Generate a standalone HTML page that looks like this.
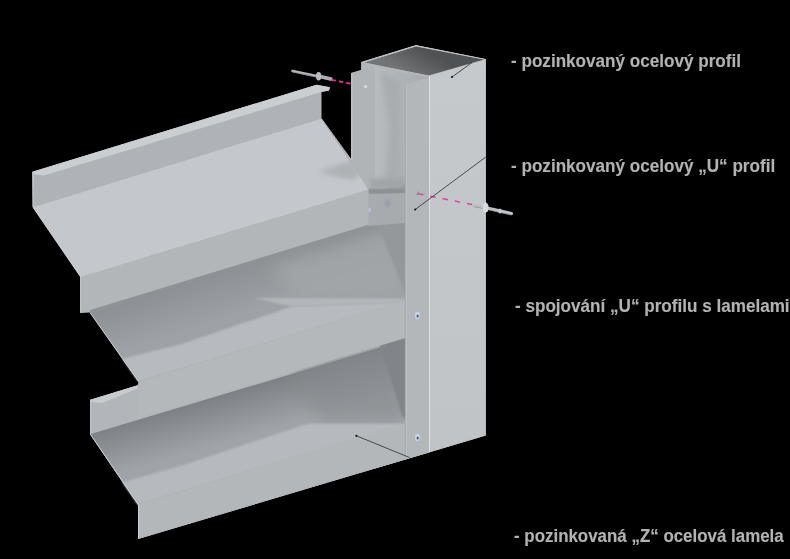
<!DOCTYPE html>
<html><head><meta charset="utf-8">
<style>
html,body{margin:0;padding:0;background:#000;width:790px;height:559px;overflow:hidden}
svg{position:absolute;left:0;top:0}
.lbl{position:absolute;left:0;white-space:pre;font-family:"Liberation Sans",sans-serif;font-weight:bold;font-size:19px;color:#b2b2b2;transform-origin:0 0;transform:scaleX(0.90);line-height:20px;-webkit-text-stroke:0.15px #b2b2b2}
</style></head><body>
<svg width="790" height="559" viewBox="0 0 790 559">
<defs>
<linearGradient id="gTubeIn" gradientUnits="userSpaceOnUse" x1="425" y1="50" x2="410" y2="76"><stop offset="0" stop-color="#505152"/><stop offset="1" stop-color="#737475"/></linearGradient>
<linearGradient id="gWeb" x1="0" y1="0" x2="1" y2="0"><stop offset="0" stop-color="#b8bbbe"/><stop offset="0.5" stop-color="#b0b3b6"/><stop offset="1" stop-color="#a8abae"/></linearGradient>
<linearGradient id="gRight" x1="0" y1="0" x2="0" y2="1"><stop offset="0" stop-color="#c6c9cc"/><stop offset="1" stop-color="#c0c4c7"/></linearGradient>
<linearGradient id="gMidShadow" gradientUnits="userSpaceOnUse" x1="200" y1="272" x2="216" y2="322"><stop offset="0" stop-color="#8a8d91"/><stop offset="1" stop-color="#9ea1a5"/></linearGradient>
<linearGradient id="gBotShadow" gradientUnits="userSpaceOnUse" x1="200" y1="398" x2="214" y2="446"><stop offset="0" stop-color="#7b7e82"/><stop offset="1" stop-color="#a0a3a7"/></linearGradient>
<filter id="soft2" x="-50%" y="-50%" width="200%" height="200%"><feGaussianBlur stdDeviation="2.5"/></filter>
<filter id="soft6" x="-50%" y="-50%" width="200%" height="200%"><feGaussianBlur stdDeviation="8"/></filter>
<filter id="soft" x="-5%" y="-5%" width="110%" height="110%"><feGaussianBlur stdDeviation="1.2"/></filter>
</defs>
<rect width="790" height="559" fill="#000"/>
<polygon points="32.4,171.8 316.5,84.8 330,87.3 329,90.4 321.3,92 321.3,118.8 351.3,160 351.3,72.9 361.2,69.7 361.2,62.2 415.9,45.3 485.8,59.2 485.8,435.4 138.2,539.1 138.2,504.9 90,434.3 90,400 137.5,385.2 138.7,382 90,312.5 80.6,313 80.6,276.9 33,207.3" fill="#b0b3b7"/>

<!-- tube right face -->
<polygon points="428.9,75.8 485.8,59.2 485.8,435.4 428.9,452.4" fill="url(#gRight)"/>
<!-- tube top outer rim -->
<polygon points="361.2,62.2 415.9,45.3 485.8,59.2 428.9,75.8" fill="#b9bcbf"/>
<polygon points="364.5,62.6 416,46.4 484,59.6 428.6,75.4" fill="url(#gTubeIn)"/>
<line x1="429.4" y1="76" x2="429.4" y2="452" stroke="#e2e5e7" stroke-width="1"/>

<!-- tube left / U web -->
<polygon points="361.2,62.2 428.9,75.8 428.9,452.4 361.2,472.6" fill="#b4b7ba"/>
<polygon points="375.4,67.5 428.9,77.5 428.9,452.4 375.4,468.3" fill="url(#gWeb)"/>
<polygon points="380,72 400,80 402,190 384,190 390,128" fill="#aaadb0" filter="url(#soft2)"/>
<line x1="375.6" y1="67" x2="375.6" y2="190" stroke="#c3c6c9" stroke-width="0.8"/>
<!-- U back flange -->
<polygon points="351.3,72.9 375.4,66.8 375.4,200 351.3,200" fill="#b1b4b7"/>
<line x1="351.8" y1="72.9" x2="351.8" y2="160" stroke="#c8cbce" stroke-width="1"/>
<circle cx="365.6" cy="86.5" r="1.6" fill="#d9dcde"/>

<!-- ===== bottom lamella ===== -->
<polygon points="90,400 405,305 405,342 90,434.3" fill="#b2b5b9"/>
<polygon points="90,434.3 405,340 404.4,423.8 138.2,504.9" fill="url(#gBotShadow)"/>
<polygon points="290,370 405,336 405,418 320,420" fill="#85888c" opacity="0.6" filter="url(#soft6)"/>
<polygon points="379,342 406,334 406,418 403,418" fill="#818488" filter="url(#soft)"/>
<polygon points="122.6,482.5 180,466 307.6,423.8 405,423.8 404.4,425 138.2,504.9" fill="#b6babe" filter="url(#soft)"/>
<polygon points="138.2,504.9 404.4,423.8 409.5,423 409.5,458.2 138.2,539.1" fill="#b3b7ba"/>
<polygon points="90.1,399.8 137.5,385.2 137.5,388.5 102,403 91,402" fill="#c9ccce"/>
<line x1="90.6" y1="400" x2="90.6" y2="434" stroke="#c5c8cb" stroke-width="1"/>

<!-- ===== middle lamella ===== -->
<polygon points="90,279 405,184 405,221 90,312.5" fill="#8e9195"/>
<polygon points="90,312.5 405,218 404.8,300.8 138.7,382" fill="url(#gMidShadow)"/>
<polygon points="270,268 400,228 400,296 300,298" fill="#a3a6a9" opacity="0.85" filter="url(#soft6)"/>
<polygon points="377,223 406,215 406,296" fill="#95989b" filter="url(#soft)"/>
<polygon points="122.4,358.7 180,344.6 292,306.6 405,302 404.8,301.6 138.7,382" fill="#b7bbbf" filter="url(#soft)"/>
<polygon points="254,298 405,298.5 405,302.5 292,306.6" fill="#b2b6ba" filter="url(#soft)"/>
<polygon points="138.7,382 404.8,300.8 409,300 409,337 138.7,417.5" fill="#b4b8bb"/>

<!-- bracket area between top lamella end and U front flange -->
<polygon points="370,178 405,178 405,190 370,190" fill="#a2a5a8" filter="url(#soft2)"/>
<polygon points="368,189 405,188.5 405,193.5 368,194.5" fill="#8d9093" filter="url(#soft)"/>
<polygon points="368,194 405,193 405,223 368,226" fill="#a8abae"/>
<ellipse cx="387.5" cy="203.7" rx="3" ry="4" fill="#9a9eab" filter="url(#soft)"/>
<ellipse cx="369.4" cy="210" rx="1.5" ry="2.5" fill="#b9c2de"/>
<!-- ===== top lamella ===== -->
<polygon points="32.4,172 321.3,90 321.3,118.8 33,207.3" fill="#afb2b6"/>
<polygon points="32.4,171.8 316.5,84.8 330,87.3 329,90.4 321.3,92 43.6,175.5 33.4,174" fill="#cbced1"/>
<line x1="33" y1="172" x2="33" y2="207" stroke="#c6c9cc" stroke-width="1.2"/>
<polygon points="33,207.3 321.3,118.8 368.4,189.8 80.6,276.9" fill="#c4c8cd"/>
<polygon points="318,172 351,160.5 360,176 352,180" fill="#aeb2b6" filter="url(#soft2)"/>
<polygon points="80.6,276.9 368.4,189.8 368.4,224.7 80.6,313" fill="#b2b6b9"/>

<!-- U front flange -->
<polygon points="405,84.7 428.9,77 428.9,452.4 405,459.5" fill="#b4b7ba"/>
<line x1="405.4" y1="85" x2="405.4" y2="459" stroke="#a3a6a9" stroke-width="0.8"/><line x1="406.3" y1="85" x2="406.3" y2="459" stroke="#c0c3c6" stroke-width="0.6"/>

<!-- silhouette rims -->
<polyline points="33,207.3 80.6,276.9 80.6,313" fill="none" stroke="#d3d6d9" stroke-width="0.9"/>
<polyline points="90.3,313 138.9,382" fill="none" stroke="#d3d6d9" stroke-width="0.9"/>
<polyline points="90.4,434.3 138.5,504.9 138.5,539" fill="none" stroke="#d3d6d9" stroke-width="0.9"/>
<polyline points="321.6,118.8 351.5,160" fill="none" stroke="#cfd2d5" stroke-width="0.8"/>
<polyline points="361.4,62.4 415.9,45.6 485.5,59.4" fill="none" stroke="#c9cccf" stroke-width="0.8"/>
<!-- rivets -->
<line x1="292.5" y1="71" x2="331" y2="79" stroke="#b4b7ba" stroke-width="2.6" stroke-linecap="round"/>
<line x1="293" y1="72" x2="330" y2="80" stroke="#8a8d90" stroke-width="0.8"/>
<line x1="318" y1="76" x2="331" y2="79" stroke="#a9acaf" stroke-width="3.4" stroke-linecap="round"/>
<ellipse cx="318.6" cy="76.2" rx="2.6" ry="4.2" fill="#b9bcbf"/>
<line x1="473.5" y1="205" x2="511.5" y2="213.5" stroke="#bfc2c5" stroke-width="3.2" stroke-linecap="round"/>
<line x1="474" y1="206.5" x2="511" y2="215" stroke="#8d9093" stroke-width="0.8"/>
<ellipse cx="485.6" cy="207.6" rx="3" ry="5" fill="#d7dadd"/>
<ellipse cx="500" cy="211" rx="1.6" ry="2.6" fill="#c9ccce"/>
<!-- magenta dashes -->
<line x1="331.5" y1="79.8" x2="352" y2="84" stroke="#e3309a" stroke-width="1.8" stroke-dasharray="4.5,3"/>
<line x1="418" y1="193.7" x2="472" y2="204.5" stroke="#e3409d" stroke-width="1.5" stroke-dasharray="5.5,7"/>
<polygon points="416,195 418.5,191 420,195" fill="#8a8d90"/>
<!-- leader lines -->
<line x1="452" y1="77" x2="472" y2="62.5" stroke="#2e2e2e" stroke-width="0.85"/>
<circle cx="452" cy="77" r="1.1" fill="#111"/>
<line x1="415.2" y1="209.5" x2="485.8" y2="157" stroke="#333" stroke-width="0.85"/>
<circle cx="415.2" cy="209.5" r="1.1" fill="#111"/>
<line x1="356.4" y1="435.8" x2="409.5" y2="457.5" stroke="#333" stroke-width="0.85"/>
<circle cx="356.4" cy="435.8" r="1.1" fill="#111"/>
<!-- screws -->
<ellipse cx="417.4" cy="315.6" rx="2.6" ry="3.8" fill="#c9d0e4"/><ellipse cx="417.7" cy="316" rx="1.1" ry="1.6" fill="#4d5c8c"/>
<ellipse cx="417.4" cy="437.6" rx="2.6" ry="3.8" fill="#c9d0e4"/><ellipse cx="417.7" cy="438" rx="1.1" ry="1.6" fill="#4d5c8c"/>
</svg>
<div class="lbl" style="left:511px;top:51px">- pozinkovaný ocelový profil</div>
<div class="lbl" style="left:511px;top:156px">- pozinkovaný ocelový „U“ profil</div>
<div class="lbl" style="left:515px;top:296px">- spojování „U“ profilu s lamelami</div>
<div class="lbl" style="left:514px;top:526px;transform:scaleX(0.89)">- pozinkovaná „Z“ ocelová lamela</div>
</body></html>
